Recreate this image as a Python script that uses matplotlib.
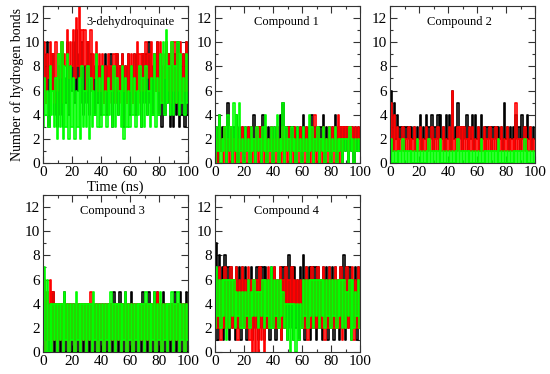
import matplotlib
matplotlib.use("Agg")
import matplotlib.pyplot as plt
import numpy as np
from matplotlib.ticker import MultipleLocator

plt.rcParams['font.family'] = ['Liberation Serif', 'DejaVu Serif']

# time axis, one sample per ns
time_ns = list(range(0, 101))

titles = ["3-dehydroquinate", "Compound 1", "Compound 2", "Compound 3", "Compound 4"]

# hydrogen bond counts (black, red, green runs)
p1_black = [4, 9, 5, 10, 3, 8, 6, 9, 4, 7,
            3, 8, 4, 9, 3, 7, 5, 10, 4, 8,
            6, 10, 5, 11, 6, 9, 5, 10, 4, 8,
            5, 10, 4, 9, 6, 8, 4, 9, 5, 8,
            4, 8, 5, 9, 4, 8, 6, 9, 3, 8,
            5, 9, 4, 8, 6, 9, 3, 8, 5, 9,
            4, 8, 5, 9, 4, 9, 6, 8, 3, 9,
            5, 9, 4, 10, 5, 8, 4, 9, 6, 10,
            4, 9, 3, 8, 4, 10, 5, 9, 3, 8,
            3, 9, 4, 10, 3, 8, 4, 9, 3, 10,
            4]
p1_red = [6, 10, 5, 9, 7, 10, 6, 9, 5, 10,
          6, 9, 7, 10, 5, 9, 8, 11, 7, 10,
          8, 11, 7, 12, 8, 13, 7, 11, 8, 11,
          6, 10, 7, 11, 6, 9, 7, 10, 6, 9,
          6, 9, 5, 8, 6, 9, 5, 8, 6, 9,
          5, 9, 6, 8, 5, 9, 6, 8, 5, 9,
          6, 9, 5, 9, 6, 10, 5, 9, 6, 9,
          6, 10, 7, 9, 6, 10, 7, 9, 6, 10,
          6, 10, 5, 9, 7, 10, 6, 9, 5, 10,
          6, 10, 5, 9, 6, 10, 5, 9, 6, 10,
          6]
p1_green = [3, 7, 4, 6, 3, 8, 4, 6, 3, 7,
            2, 9, 3, 10, 2, 8, 3, 9, 2, 8,
            3, 7, 2, 6, 3, 7, 2, 8, 3, 6,
            3, 8, 2, 7, 3, 6, 4, 9, 3, 7,
            3, 8, 4, 6, 3, 7, 4, 6, 3, 8,
            3, 7, 4, 6, 3, 8, 2, 7, 3, 6,
            3, 8, 4, 7, 3, 6, 4, 8, 3, 7,
            3, 8, 4, 6, 3, 7, 4, 9, 3, 7,
            4, 9, 5, 10, 4, 11, 5, 8, 4, 10,
            4, 8, 5, 10, 4, 9, 5, 7, 4, 9,
            5]

p2_black = [1, 3, 0, 4, 1, 3, 2, 3, 0, 5,
            1, 3, 0, 3, 1, 4, 0, 3, 1, 3,
            0, 3, 1, 3, 0, 3, 1, 4, 0, 3,
            1, 3, 0, 4, 1, 3, 0, 3, 1, 3,
            0, 3, 1, 3, 0, 4, 1, 5, 0, 3,
            1, 3, 0, 3, 1, 3, 0, 3, 1, 3,
            0, 4, 1, 3, 0, 3, 1, 4, 0, 3,
            1, 3, 0, 3, 1, 4, 0, 3, 1, 3,
            0, 3, 1, 4, 0, 3, 1, 3, 0, 3,
            1, 3, 0, 3, 1, 3, 0, 3, 1, 3,
            1]
p2_red = [1, 2, 0, 3, 1, 2, 0, 3, 1, 2,
          0, 3, 1, 2, 0, 3, 1, 2, 0, 3,
          1, 2, 0, 3, 1, 3, 0, 2, 1, 3,
          0, 3, 1, 2, 0, 3, 1, 2, 0, 3,
          1, 2, 0, 3, 1, 2, 0, 3, 1, 2,
          0, 3, 1, 2, 0, 3, 1, 2, 0, 3,
          1, 2, 0, 3, 1, 2, 0, 3, 1, 4,
          0, 3, 1, 2, 0, 3, 1, 2, 0, 3,
          1, 3, 0, 3, 1, 4, 0, 3, 1, 3,
          2, 3, 1, 3, 2, 3, 1, 3, 2, 3,
          2]
p2_green = [0, 3, 1, 4, 0, 2, 1, 3, 0, 4,
            1, 3, 0, 5, 1, 4, 0, 5, 1, 2,
            0, 3, 1, 2, 0, 3, 1, 2, 0, 3,
            1, 2, 0, 3, 1, 4, 0, 2, 1, 3,
            0, 3, 1, 4, 0, 2, 1, 5, 0, 3,
            1, 2, 0, 3, 1, 2, 0, 3, 1, 2,
            0, 3, 1, 2, 0, 4, 1, 3, 0, 2,
            1, 3, 0, 2, 1, 3, 0, 2, 1, 3,
            0, 2, 1, 3, 0, 2, 1, 2, 0, 2,
            1, 2, 0, 3, 1, 2, 0, 2, 1, 2,
            1]

p3_black = [2, 6, 1, 5, 2, 4, 1, 3, 2, 3,
            1, 3, 2, 3, 1, 3, 2, 3, 1, 3,
            2, 4, 1, 3, 2, 4, 1, 3, 2, 4,
            1, 3, 2, 4, 1, 4, 2, 3, 1, 4,
            2, 4, 1, 6, 2, 3, 1, 5, 2, 3,
            1, 3, 2, 4, 1, 3, 2, 4, 1, 4,
            2, 3, 1, 4, 2, 3, 1, 3, 2, 3,
            1, 3, 2, 3, 1, 3, 2, 3, 1, 5,
            2, 3, 1, 3, 2, 3, 1, 4, 2, 3,
            1, 4, 2, 3, 1, 4, 2, 3, 1, 3,
            2]
p3_red = [1, 5, 1, 4, 1, 3, 1, 2, 1, 3,
          1, 2, 1, 3, 1, 2, 1, 3, 1, 2,
          1, 3, 1, 2, 1, 3, 1, 2, 1, 3,
          1, 2, 1, 3, 1, 2, 1, 3, 1, 2,
          1, 3, 1, 6, 1, 2, 1, 3, 1, 3,
          1, 3, 1, 2, 1, 3, 1, 3, 1, 2,
          1, 3, 1, 2, 1, 3, 1, 2, 1, 3,
          1, 2, 1, 3, 1, 2, 1, 3, 1, 2,
          1, 3, 1, 2, 1, 2, 1, 5, 1, 2,
          1, 2, 1, 3, 1, 2, 1, 3, 1, 2,
          1]
p3_green = [0, 2, 0, 1, 0, 1, 0, 1, 0, 2,
            0, 1, 0, 1, 0, 1, 0, 1, 0, 2,
            0, 1, 0, 1, 0, 1, 0, 2, 0, 1,
            0, 1, 0, 1, 0, 2, 0, 1, 0, 1,
            0, 1, 0, 1, 0, 1, 0, 2, 0, 1,
            0, 1, 0, 1, 0, 1, 0, 1, 0, 1,
            0, 1, 0, 2, 0, 1, 0, 1, 0, 1,
            0, 1, 0, 1, 0, 2, 0, 1, 0, 1,
            0, 1, 0, 1, 0, 1, 0, 1, 0, 1,
            0, 1, 0, 2, 0, 1, 0, 1, 0, 1,
            0]

p4_black = [0, 6, 1, 5, 0, 4, 1, 5, 0, 4,
            1, 4, 0, 4, 1, 5, 0, 4, 1, 4,
            0, 4, 1, 4, 0, 4, 1, 4, 0, 4,
            1, 4, 0, 4, 1, 4, 0, 4, 1, 4,
            0, 4, 1, 4, 0, 4, 1, 4, 0, 5,
            1, 4, 0, 5, 1, 4, 0, 5, 1, 4,
            0, 5, 1, 4, 0, 4, 1, 4, 0, 5,
            1, 4, 0, 5, 1, 4, 0, 5, 1, 5,
            0, 4, 1, 5, 0, 4, 1, 4, 0, 4,
            1, 5, 0, 4, 1, 5, 0, 4, 1, 5,
            0]
p4_red = [0, 6, 0, 5, 1, 6, 0, 5, 1, 4,
          0, 4, 1, 4, 0, 4, 1, 4, 0, 4,
          1, 4, 0, 4, 1, 4, 0, 4, 1, 4,
          0, 4, 1, 5, 0, 4, 1, 4, 0, 4,
          1, 4, 0, 4, 1, 4, 0, 4, 1, 4,
          0, 4, 1, 4, 0, 4, 1, 4, 0, 4,
          1, 4, 0, 4, 1, 4, 0, 4, 1, 4,
          0, 4, 1, 4, 0, 4, 1, 4, 0, 5,
          1, 4, 0, 4, 1, 4, 0, 4, 1, 4,
          0, 4, 1, 4, 0, 4, 1, 4, 0, 4,
          1]
p4_green = [1, 7, 0, 6, 0, 4, 0, 4, 1, 4,
            0, 4, 1, 4, 0, 5, 1, 4, 0, 4,
            1, 4, 0, 5, 1, 4, 0, 4, 1, 4,
            0, 4, 1, 4, 0, 5, 1, 4, 0, 4,
            1, 4, 0, 4, 1, 4, 0, 5, 1, 4,
            0, 4, 1, 4, 0, 4, 1, 5, 0, 4,
            1, 4, 0, 4, 1, 4, 0, 4, 1, 4,
            0, 5, 1, 4, 0, 4, 1, 5, 0, 4,
            1, 5, 0, 4, 1, 4, 0, 4, 1, 5,
            0, 4, 1, 5, 0, 4, 1, 4, 0, 4,
            1]

p5_black = [2, 9, 1, 8, 2, 7, 1, 8, 2, 7,
            1, 7, 2, 6, 1, 7, 2, 7, 1, 7,
            2, 7, 1, 6, 2, 7, 1, 6, 2, 7,
            1, 7, 2, 7, 1, 7, 2, 6, 1, 7,
            2, 7, 1, 6, 2, 7, 1, 7, 2, 7,
            1, 8, 2, 7, 1, 7, 2, 6, 1, 7,
            2, 8, 1, 7, 2, 7, 1, 7, 2, 7,
            1, 7, 2, 6, 1, 7, 2, 7, 1, 7,
            2, 7, 1, 7, 2, 6, 1, 7, 2, 8,
            1, 7, 2, 7, 1, 6, 2, 7, 1, 7,
            2]
p5_red = [2, 6, 2, 7, 1, 6, 2, 7, 2, 6,
          2, 7, 2, 6, 2, 7, 1, 6, 2, 7,
          2, 6, 2, 7, 1, 6, 0, 6, 0, 6,
          0, 7, 1, 6, 0, 6, 2, 7, 2, 6,
          2, 7, 2, 6, 2, 7, 1, 6, 2, 7,
          4, 6, 4, 7, 4, 6, 4, 6, 4, 6,
          2, 6, 2, 7, 1, 6, 2, 7, 2, 6,
          2, 7, 2, 6, 2, 7, 1, 6, 2, 7,
          2, 6, 2, 7, 2, 6, 2, 7, 1, 6,
          2, 7, 2, 6, 2, 7, 1, 6, 2, 7,
          2]
p5_green = [2, 7, 3, 6, 2, 6, 3, 6, 1, 6,
            2, 6, 3, 6, 2, 5, 3, 5, 2, 5,
            2, 5, 3, 6, 2, 5, 3, 6, 3, 5,
            2, 5, 3, 6, 2, 6, 3, 6, 2, 7,
            2, 6, 3, 6, 2, 6, 3, 5, 2, 4,
            1, 4, 0, 4, 1, 4, 0, 4, 1, 4,
            2, 6, 3, 6, 2, 6, 3, 6, 2, 6,
            3, 6, 2, 6, 3, 6, 2, 6, 3, 6,
            2, 6, 3, 6, 2, 6, 3, 6, 2, 6,
            2, 5, 3, 6, 1, 6, 2, 5, 3, 6,
            2]

panels = [
    (p1_black, p1_red, p1_green),
    (p2_black, p2_red, p2_green),
    (p3_black, p3_red, p3_green),
    (p4_black, p4_red, p4_green),
    (p5_black, p5_red, p5_green),
]

fig = plt.figure(figsize=(5.5, 3.74), dpi=100)

# axes boxes in figure fractions (left, bottom, width, height)
W, H = 550.0, 374.0
boxes = [
    (43 / W, 1 - 163 / H, 145 / W, 157 / H),
    (215 / W, 1 - 163 / H, 145 / W, 157 / H),
    (390 / W, 1 - 163 / H, 145 / W, 157 / H),
    (43 / W, 1 - 352 / H, 145 / W, 157 / H),
    (215 / W, 1 - 352 / H, 145 / W, 157 / H),
]
title_x = [0.6, 0.49, 0.48, 0.48, 0.49]

for i, (box, series) in enumerate(zip(boxes, panels)):
    ax = fig.add_axes(box)
    for vals, col in zip(series, ["black", "red", "#00ff00"]):
        ax.plot(time_ns, vals, color=col, lw=1.2, drawstyle="steps-mid")
    ax.set_xlim(0, 100)
    ax.set_ylim(0, 13)
    ax.xaxis.set_major_locator(MultipleLocator(20))
    ax.xaxis.set_minor_locator(MultipleLocator(10))
    ax.yaxis.set_major_locator(MultipleLocator(2))
    ax.yaxis.set_minor_locator(MultipleLocator(1))
    ax.tick_params(which="both", direction="in", top=True, right=True,
                   labelsize=11, pad=2, color="#333333")
    ax.tick_params(which="major", length=5, width=0.8)
    ax.tick_params(which="minor", length=2.5, width=0.8)
    for sp in ax.spines.values():
        sp.set_linewidth(0.8)
        sp.set_color("#333333")
        sp.set_zorder(3)
    ax.text(title_x[i], 0.9, titles[i], transform=ax.transAxes,
            ha="center", va="center", fontsize=9)
    if i == 0:
        ax.set_ylabel("Number of hydrogen bonds", fontsize=10, labelpad=1)
        ax.set_xlabel("Time (ns)", fontsize=10.5, labelpad=1)

fig.savefig("out.png", dpi=100)
